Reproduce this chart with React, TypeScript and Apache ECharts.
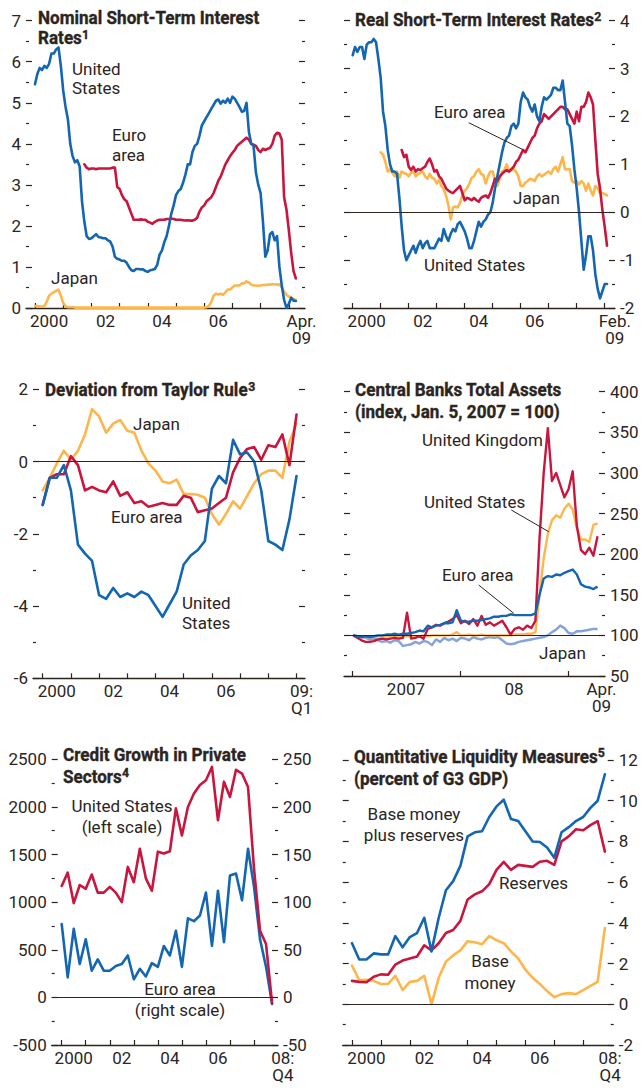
import { useEffect, useRef } from 'react';
import * as echarts from 'echarts';

const INK = '#2b251e';
const BLUE = '#1466b0';
const RED = '#c8163e';
const ORANGE = '#fdb64c';
const LIGHTBLUE = '#86a4da';
const FONT = 'Roboto, "Liberation Sans", Arial, sans-serif';

// ---------- Panel 1: Nominal short-term interest rates (monthly, from Jan 2000) ----------
const nomUSStart = 0;
const nomUS = [
  5.45, 5.7, 5.85, 5.8, 5.9, 5.85, 5.95, 6.2, 6.2, 6.3, 6.35, 5.9,
  5.3, 4.9, 4.6, 4.0, 3.7, 3.55, 3.6, 3.45, 2.6, 2.1, 1.75, 1.68,
  1.7, 1.75, 1.8, 1.73, 1.72, 1.7, 1.7, 1.65, 1.62, 1.5, 1.25, 1.2,
  1.18, 1.15, 1.15, 1.1, 1.0, 0.92, 0.9, 0.95, 0.95, 0.94, 0.94, 0.9,
  0.88, 0.92, 0.93, 0.95, 1.05, 1.3, 1.4, 1.6, 1.75, 2.0, 2.3, 2.5,
  2.75, 2.85, 2.9, 3.05, 3.25, 3.5, 3.5, 3.8, 3.95, 4.0, 4.2, 4.45,
  4.55, 4.65, 4.75, 4.85, 4.95, 5.05, 5.08, 4.98, 5.05, 5.0, 5.1, 5.0,
  5.15, 5.1, 5.0, 4.9, 4.78, 4.8, 5.0, 4.3, 4.0, 3.95, 3.3, 3.0,
  2.8, 2.1, 1.25, 1.4, 1.8, 1.85, 1.65, 1.75, 1.0, 0.55, 0.2, 0.0,
  0.1, 0.25, 0.18, 0.17,
];
const nomEuroStart = 21;
const nomEuro = [
  3.5, 3.42, 3.38,
  3.4, 3.4, 3.38, 3.4, 3.4, 3.4, 3.4, 3.4, 3.4, 3.42, 3.42, 2.95,
  2.9, 2.75, 2.65, 2.6, 2.45, 2.3, 2.15, 2.15, 2.15, 2.16, 2.15, 2.15,
  2.1, 2.08, 2.05, 2.1, 2.13, 2.15, 2.15, 2.15, 2.17, 2.17, 2.18, 2.17,
  2.15, 2.15, 2.15, 2.14, 2.13, 2.14, 2.13, 2.13, 2.15, 2.2, 2.35, 2.45,
  2.5, 2.6, 2.65, 2.7, 2.8, 2.95, 3.1, 3.2, 3.35, 3.5, 3.6, 3.7,
  3.78, 3.85, 3.95, 4.0, 4.05, 4.1, 4.15, 4.1, 4.0, 3.98, 3.95, 3.85,
  3.8, 3.88, 3.85, 3.88, 3.9, 4.0, 4.2, 4.27, 4.25, 4.1, 2.7, 2.4,
  1.9, 1.35, 0.9, 0.72,
];
const nomJapanStart = 0;
const nomJapan = [
  0.05, 0.05, 0.04, 0.03, 0.05, 0.15, 0.3, 0.35, 0.38, 0.42, 0.45, 0.3,
  0.12, 0.04, 0.02, 0.02, 0.02, 0.01, 0.01, 0.01, 0.01, 0.01, 0.01, 0.01,
  0.01, 0.01, 0.01, 0.01, 0.01, 0.01, 0.01, 0.01, 0.01, 0.01, 0.01, 0.01,
  0.01, 0.01, 0.01, 0.01, 0.01, 0.01, 0.01, 0.01, 0.01, 0.01, 0.01, 0.01,
  0.01, 0.01, 0.01, 0.01, 0.01, 0.01, 0.01, 0.01, 0.01, 0.01, 0.01, 0.01,
  0.01, 0.01, 0.01, 0.01, 0.01, 0.01, 0.01, 0.01, 0.01, 0.01, 0.01, 0.01,
  0.01, 0.02, 0.05, 0.15, 0.3, 0.35, 0.33, 0.35, 0.32, 0.38, 0.45, 0.45,
  0.5, 0.55, 0.55, 0.55, 0.6, 0.6, 0.65, 0.62, 0.57, 0.55, 0.55, 0.54,
  0.55, 0.56, 0.56, 0.57, 0.57, 0.58, 0.58, 0.57, 0.58, 0.5, 0.4, 0.32,
  0.28, 0.25, 0.22, 0.2,
];

// ---------- Panel 2: Real short-term interest rates (monthly) ----------
const realUSStart = 0;
const realUS = [
  3.28, 3.45, 3.35, 3.45, 3.45, 3.2, 3.5, 3.55, 3.55, 3.62, 3.55, 3.2,
  2.8, 2.1, 1.8, 1.3, 1.0, 0.85, 0.85, 0.8, 0.3, -0.3, -0.8, -1.0,
  -0.9, -0.8, -0.7, -0.85, -0.7, -0.6, -0.75, -0.65, -0.6, -0.75, -0.75, -0.75,
  -0.65, -0.55, -0.6, -0.35, -0.5, -0.6, -0.45, -0.35, -0.4, -0.25, -0.2, -0.3,
  -0.4, -0.55, -0.75, -0.75, -0.6, -0.4, -0.2, -0.3, -0.2, -0.15, -0.05, 0.0,
  0.2, 0.5, 0.75, 1.0, 1.25, 1.45, 1.55, 1.6, 1.8, 1.85, 1.75, 1.85,
  2.3, 2.5, 2.4, 2.35, 2.2, 2.1, 2.25, 2.0, 1.9, 2.2, 2.4, 2.35,
  2.4, 2.45, 2.6, 2.6, 2.55, 2.55, 2.75, 2.3, 1.85, 1.8, 1.4, 0.9,
  0.5, 0.0, -0.6, -1.2, -0.9, -0.5, -0.5, -0.8, -1.3, -1.6, -1.8, -1.65,
  -1.5, -1.5,
];
const realEuroStart = 21;
const realEuro = [
  1.3, 1.15, 1.2,
  0.95, 0.88, 0.95, 0.85, 0.9, 0.88, 0.92, 0.95, 1.05, 1.12, 1.0, 0.85,
  0.88, 0.75, 0.7, 0.6, 0.5, 0.45, 0.42, 0.4, 0.45, 0.5, 0.55, 0.4,
  0.25, 0.3, 0.28, 0.25, 0.3, 0.25, 0.22, 0.3, 0.33, 0.35, 0.3, 0.4,
  0.55, 0.7, 0.65, 0.75, 0.8, 0.85, 0.88, 0.85, 0.9, 0.95, 1.05, 1.1,
  1.2, 1.3, 1.25, 1.35, 1.45, 1.55, 1.6, 1.75, 1.85, 1.9, 2.05, 2.0,
  1.95, 2.0, 2.05, 2.1, 2.15, 2.2, 2.2, 2.15, 2.15, 2.05, 1.95, 1.85,
  2.1, 1.9, 2.2, 2.2, 2.3, 2.5, 2.4, 2.25, 1.5, 0.8, 0.5, 0.05,
  -0.3, -0.7,
];
const realJapanStart = 12;
const realJapan = [
  1.25, 1.2, 1.05, 0.85, 0.9, 0.82, 0.75, 0.85, 0.72, 0.85, 0.82, 0.8,
  0.75, 0.82, 0.85, 0.75, 0.8, 0.82, 0.85, 0.75, 0.7, 0.8, 0.72, 0.7,
  0.6, 0.68, 0.55, 0.48, 0.35, 0.15, -0.15, 0.1, 0.12, 0.1, 0.2, 0.35,
  0.45, 0.5, 0.6, 0.72, 0.75, 0.85, 0.9, 0.8, 0.78, 0.6, 0.75, 0.85,
  0.85, 0.65, 0.55, 0.7, 0.85, 0.88, 1.0, 0.85, 0.88, 0.9, 0.85, 0.75,
  0.55, 0.55, 0.62, 0.65, 0.7, 0.68, 0.65, 0.75, 0.8, 0.75, 0.78, 0.82,
  0.85, 0.8, 0.9, 0.95, 0.85, 1.0, 1.15, 0.9, 0.9, 0.9, 0.65, 0.62,
  0.65, 0.58, 0.65, 0.6, 0.45, 0.6, 0.45, 0.35, 0.55, 0.5, 0.4, 0.4,
  0.38, 0.35,
];

// ---------- Panel 3: Deviation from Taylor rule (quarterly, 2000Q1–2009Q1) ----------
const taylorUS = [
  -1.2, -0.45, -0.45, -0.1, -0.8, -2.3, -2.55, -2.75, -3.7, -3.8, -3.5, -3.75,
  -3.65, -3.75, -3.6, -3.7, -4.0, -4.3, -3.95, -3.6, -2.85, -2.6, -2.45, -2.2,
  -0.75, -0.4, -0.6, 0.6, 0.2, 0.25, 0.0, -0.8, -2.2, -2.3, -2.45, -1.6, -0.4,
];
const taylorEuro = [
  -1.2, -0.45, -0.35, -0.35, 0.15, -0.1, -0.8, -0.7, -0.8, -0.85, -0.55, -0.95,
  -0.85, -1.15, -1.1, -1.25, -1.2, -1.15, -1.2, -1.2, -0.95, -1.0, -1.4, -1.35,
  -1.3, -1.15, -1.0, -0.3, 0.1, 0.35, 0.4, 0.05, 0.45, 0.4, 0.75, -0.1, 1.3,
];
const taylorJapan = [
  -0.8, -0.45, -0.05, 0.3, 0.05, 0.3, 0.75, 1.45, 1.25, 0.8, 1.05, 1.15,
  0.85, 0.8, 0.3, -0.05, -0.25, -0.55, -0.6, -0.5, -0.9, -0.9, -0.92, -1.0,
  -1.45, -1.75, -1.45, -1.1, -1.3, -0.95, -0.6, -0.35, -0.25, -0.25, -0.45, 0.55, 1.05,
];

// ---------- Panel 4: Central banks total assets (every two weeks from Jan. 5, 2007) ----------
const assetsUK = [
  100, 97, 94, 92, 92, 93, 95, 96, 95, 96, 97, 96, 97, 128, 96, 97, 99, 96, 108, 110,
  113, 112, 115, 117, 120, 125, 115, 118, 114, 120, 112, 124, 113, 116, 112, 115, 118, 110, 101, 108,
  110, 107, 112, 109, 118, 220, 300, 355, 290, 300, 285, 270, 280, 302, 235, 205, 200, 208, 198, 222,
];
const assetsUS = [
  100, 99, 98, 98, 98, 98, 99, 99, 99, 99, 99, 99, 99, 99, 99, 99, 99, 100, 99, 100,
  100, 100, 100, 100, 101, 104, 100, 100, 101, 100, 100, 101, 100, 100, 100, 100, 100, 100, 100, 101,
  101, 101, 102, 102, 104, 150, 195, 225, 242, 248, 245, 256, 262, 255, 232, 218, 218, 215, 236, 238,
];
const assetsEuro = [
  100, 99, 98, 99, 98, 99, 100, 100, 101, 101, 102, 101, 102, 102, 103, 104, 106, 105, 112, 110,
  112, 113, 115, 115, 116, 131, 118, 117, 117, 118, 118, 119, 120, 121, 123, 123, 124, 124, 126, 125,
  125, 125, 125, 125, 127, 150, 170, 173, 172, 175, 174, 177, 179, 181, 175, 163, 160, 159, 157, 160,
];
const assetsJapan = [
  100, 99, 98, 97, 95, 96, 94, 92, 93, 91, 94, 93, 87, 88, 89, 92, 90, 93, 92, 88,
  95, 92, 97, 94, 96, 93, 97, 96, 94, 98, 96, 95, 97, 98, 97, 98, 94, 90, 89, 90,
  92, 93, 94, 95, 96, 97, 98, 100, 104, 107, 112, 109, 103, 102, 105, 105, 106, 107, 108, 108,
];

// ---------- Panel 5: Credit growth in private sectors (quarterly 2000Q1–2008Q4) ----------
const creditUS = [
  1170, 1310, 990, 1180, 1140, 1290, 1100, 1100, 1160, 1100, 1000, 1370,
  1210, 1560, 1250, 1120, 1530, 1510, 1535, 1985, 1700, 2000, 2140, 2230,
  2280, 2420, 1860, 2265, 2105, 2390, 2350, 2210, 1350, 700, 560, -60,
];
const creditEuro = [
  77, 21, 72, 35, 61, 28, 40, 28, 28, 33, 35, 44,
  19, 30, 22, 36, 32, 54, 44, 70, 32, 83, 80, 86,
  110, 54, 112, 58, 128, 130, 102, 156, 116, 61, 32, -7,
];

// ---------- Panel 6: Quantitative liquidity measures (quarterly 2000Q1–2008Q4) ----------
const liqBasePlusRes = [
  3.0, 2.2, 2.2, 2.5, 2.45, 2.45, 3.35, 2.8, 3.3, 3.5, 4.25, 2.6,
  4.25, 5.6, 6.05, 6.8, 8.25, 8.45, 8.5, 9.2, 9.72, 10.05, 9.1, 9.0,
  8.5, 8.0, 7.97, 7.7, 7.2, 8.45, 8.7, 9.0, 9.2, 9.65, 10.0, 11.3,
];
const liqReserves = [
  1.15, 1.1, 1.08, 1.35, 1.47, 1.45, 1.95, 2.15, 2.25, 2.35, 2.9, 2.65,
  3.0, 3.5, 3.65, 4.1, 5.15, 5.4, 5.55, 5.9, 6.6, 7.0, 6.6, 6.85,
  6.8, 6.75, 7.0, 7.05, 6.85, 8.0, 8.25, 8.6, 8.55, 8.8, 9.0, 7.5,
];
const liqBase = [
  1.9, 1.18, 1.2, 1.15, 1.0, 1.0, 1.4, 0.7, 1.1, 1.15, 1.4, 0.0,
  1.3, 2.1, 2.4, 2.65, 3.1, 3.05, 2.95, 3.35, 3.15, 3.0, 2.6, 2.25,
  1.7, 1.3, 1.0, 0.65, 0.35, 0.5, 0.55, 0.5, 0.7, 0.9, 1.1, 3.75,
];

// ---------- Axis ticks / labels ----------
const yearTicks00_09 = [2000, 2001, 2002, 2003, 2004, 2005, 2006, 2007, 2008, 2009];
const yearTicks00_08 = [2000, 2001, 2002, 2003, 2004, 2005, 2006, 2007, 2008];
const yearTicks07_09 = [2007, 2008, 2009];
const labels1: [number, string][] = [[2000.5, '2000'], [2002.5, '02'], [2004.5, '04'], [2006.5, '06'], [2009.45, 'Apr.\n09']];
const labels2: [number, string][] = [[2000.5, '2000'], [2002.5, '02'], [2004.5, '04'], [2006.5, '06'], [2009.36, 'Feb.\n09']];
const labels3: [number, string][] = [[2000.5, '2000'], [2002.5, '02'], [2004.5, '04'], [2006.5, '06'], [2009.18, '09:\nQ1']];
const labels4: [number, string][] = [[2007.5, '2007'], [2008.5, '08'], [2009.31, 'Apr.\n09']];
const labels5: [number, string][] = [[2000.5, '2000'], [2002.5, '02'], [2004.5, '04'], [2006.5, '06'], [2008.99, '{r|08:}\n{r|Q4}']];
const labels6: [number, string][] = [[2000.5, '2000'], [2002.5, '02'], [2004.5, '04'], [2006.5, '06'], [2008.93, '08:\nQ4']];

const monthly = (start: number, vals: number[]) => vals.map((v, i) => [2000 + (start + i) / 12, v]);
const quarterly = (vals: number[]) => vals.map((v, i) => [2000 + i / 4, v]);
const biweekly = (vals: number[]) => vals.map((v, i) => [2007 + 4 / 365 + (i * 14) / 365, v]);

function xAxis(gi: number, min: number, max: number, ticks: number[], labels: [number, string][]) {
  const map: Record<string, string> = {};
  labels.forEach(([v, t]) => (map[v.toFixed(2)] = t));
  return {
    type: 'value', gridIndex: gi, min, max,
    axisLine: { show: true, onZero: false, lineStyle: { color: INK, width: 1.3 } },
    axisTick: { show: true, inside: true, length: 5, customValues: ticks, lineStyle: { color: INK, width: 1.2 } },
    axisLabel: {
      show: true, customValues: labels.map((l) => l[0]),
      formatter: (v: number) => map[v.toFixed(2)] ?? '',
      color: INK, fontSize: 17, fontFamily: FONT, margin: 4, lineHeight: 17,
      rich: { r: { color: INK, fontSize: 17, fontFamily: FONT, lineHeight: 17, padding: [0, 0, 0, 10] } },
    },
    splitLine: { show: false },
  };
}

function yAxis(gi: number, position: 'left' | 'right', min: number, max: number, interval: number, showLabel: boolean) {
  return {
    type: 'value', gridIndex: gi, position, min, max, interval,
    axisLine: { show: false },
    axisTick: { show: true, inside: true, length: 6, lineStyle: { color: INK, width: 1.2 } },
    minorTick: { show: true, splitNumber: 2, length: 3, lineStyle: { color: INK, width: 1.2 } },
    axisLabel: { show: showLabel, color: INK, fontSize: 17, fontFamily: FONT, margin: 5, formatter: (v: number) => String(v) },
    splitLine: { show: false },
    minorSplitLine: { show: false },
  };
}

function line(data: number[][], color: string, xi: number, yi: number, extra: any = {}) {
  return {
    type: 'line', data, xAxisIndex: xi, yAxisIndex: yi, symbol: 'none', showSymbol: false, silent: true,
    lineStyle: { color, width: 2.6, cap: 'round', join: 'round' }, itemStyle: { color },
    emphasis: { disabled: true }, z: 3, ...extra,
  };
}

function refLine(v: number) {
  return {
    markLine: {
      silent: true, symbol: ['none', 'none'], label: { show: false },
      lineStyle: { color: INK, width: 1, type: 'solid' }, data: [{ yAxis: v }],
    },
  };
}

const TITLE_SCALE = 0.95;
function title(x: number, y: number, text: string, lh = 20) {
  return {
    type: 'text', x, y, scaleX: TITLE_SCALE, z: 100,
    style: {
      text, fill: INK, stroke: INK, lineWidth: 0.35, fontSize: 18, fontWeight: 'bold', fontFamily: FONT, lineHeight: lh,
      align: 'left', verticalAlign: 'top',
      rich: { s: { fontSize: 13, fontWeight: 'bold', fontFamily: FONT, fill: INK, color: INK, verticalAlign: 'top', lineHeight: 12 } },
    },
  };
}
function note(x: number, y: number, text: string, align = 'left', lh = 20) {
  return {
    type: 'text', x, y, z: 100,
    style: { text, fill: INK, fontSize: 17, fontFamily: FONT, lineHeight: lh, align, verticalAlign: 'top' },
  };
}
function leader(x1: number, y1: number, x2: number, y2: number) {
  return { type: 'line', z: 100, shape: { x1, y1, x2, y2 }, style: { stroke: INK, lineWidth: 1 } };
}

export default function App() {
  const ref = useRef<HTMLDivElement>(null);
  useEffect(() => {
    if (!ref.current) return;
    const chart = echarts.init(ref.current, undefined, { renderer: 'svg' });
    const option: any = {
      animation: false,
      backgroundColor: '#ffffff',
      grid: [
        { left: 26, top: 20.7, width: 279, height: 287.3 },
        { left: 344, top: 20.7, width: 271, height: 287.3 },
        { left: 33, top: 389.3, width: 272, height: 289 },
        { left: 344, top: 391.7, width: 261, height: 284.3 },
        { left: 51.7, top: 759.3, width: 226.3, height: 285.7 },
        { left: 342.7, top: 760, width: 271, height: 285 },
      ],
      xAxis: [
        xAxis(0, 1999.681, 2009.574, yearTicks00_09, labels1),
        xAxis(1, 1999.689, 2009.368, yearTicks00_09, labels2),
        xAxis(2, 1999.656, 2009.301, yearTicks00_09, labels3),
        xAxis(3, 2006.926, 2009.343, yearTicks07_09, labels4),
        xAxis(4, 1999.584, 2008.997, yearTicks00_08, labels5),
        xAxis(5, 1999.678, 2009.055, yearTicks00_08, labels6),
      ],
      yAxis: [
        yAxis(0, 'left', 0, 7, 1, true), yAxis(0, 'right', 0, 7, 1, false),
        yAxis(1, 'left', -2, 4, 1, false), yAxis(1, 'right', -2, 4, 1, true),
        yAxis(2, 'left', -6, 2, 2, true), yAxis(2, 'right', -6, 2, 2, false),
        yAxis(3, 'left', 50, 400, 50, false), yAxis(3, 'right', 50, 400, 50, true),
        yAxis(4, 'left', -500, 2500, 500, true), yAxis(4, 'right', -50, 250, 50, true),
        yAxis(5, 'left', -2, 12, 2, false), yAxis(5, 'right', -2, 12, 2, true),
      ],
      series: [
        line(monthly(nomJapanStart, nomJapan), ORANGE, 0, 0),
        line(monthly(nomEuroStart, nomEuro), RED, 0, 0),
        line(monthly(nomUSStart, nomUS), BLUE, 0, 0),

        line(monthly(realJapanStart, realJapan), ORANGE, 1, 3, refLine(0)),
        line(monthly(realEuroStart, realEuro), RED, 1, 3),
        line(monthly(realUSStart, realUS), BLUE, 1, 3),

        line(quarterly(taylorJapan), ORANGE, 2, 4, refLine(0)),
        line(quarterly(taylorEuro), RED, 2, 4),
        line(quarterly(taylorUS), BLUE, 2, 4),

        line(biweekly(assetsJapan), LIGHTBLUE, 3, 7, { ...refLine(100), lineStyle: { color: LIGHTBLUE, width: 2.5, join: 'round' } }),
        line(biweekly(assetsUS), ORANGE, 3, 7, { lineStyle: { color: ORANGE, width: 2.4, join: 'round' } }),
        line(biweekly(assetsUK), RED, 3, 7, { lineStyle: { color: RED, width: 2.4, join: 'round' } }),
        line(biweekly(assetsEuro), BLUE, 3, 7, { lineStyle: { color: BLUE, width: 2.4, join: 'round' } }),

        line(quarterly(creditEuro), BLUE, 4, 9),
        line(quarterly(creditUS), RED, 4, 8, refLine(0)),

        line(quarterly(liqBase), ORANGE, 5, 11, refLine(0)),
        line(quarterly(liqReserves), RED, 5, 11),
        line(quarterly(liqBasePlusRes), BLUE, 5, 11),
      ],
      graphic: [
        title(38, 8, 'Nominal Short-Term Interest\nRates{s|1}'),
        title(355, 10, 'Real Short-Term Interest Rates{s|2}'),
        title(45, 380, 'Deviation from Taylor Rule{s|3}'),
        title(355, 379, 'Central Banks Total Assets\n(index, Jan. 5, 2007 = 100)', 22),
        title(63, 744, 'Credit Growth in Private\nSectors{s|4}', 22),
        title(354, 746, 'Quantitative Liquidity Measures{s|5}\n(percent of G3 GDP)', 22),

        note(72, 59, 'United\nStates', 'left', 19),
        note(112, 125, 'Euro\narea'),
        note(51, 268, 'Japan'),

        note(434, 102, 'Euro area'),
        leader(468.7, 122.7, 523.7, 150),
        note(513, 188, 'Japan'),
        note(424, 255, 'United States'),

        note(133, 414, 'Japan'),
        note(111, 507, 'Euro area'),
        note(182, 593, 'United\nStates'),

        note(422, 430, 'United Kingdom'),
        note(424, 492, 'United States'),
        leader(511.3, 510, 548.7, 531.7),
        note(442, 565, 'Euro area'),
        leader(478.7, 585, 513.7, 613.3),
        note(539, 643, 'Japan'),

        note(122, 795, 'United States\n(left scale)', 'center', 21),
        note(180, 978, 'Euro area\n(right scale)', 'center', 21),

        note(414, 803, 'Base money\nplus reserves', 'center', 21),
        note(499, 873, 'Reserves'),
        note(490, 950, 'Base\nmoney', 'center', 22),
      ],
    };
    chart.setOption(option);
    return () => chart.dispose();
  }, []);
  return (
    <div
      ref={ref}
      style={{ position: 'absolute', left: 0, top: 0, width: 644, height: 1088, background: '#fff' }}
    />
  );
}
